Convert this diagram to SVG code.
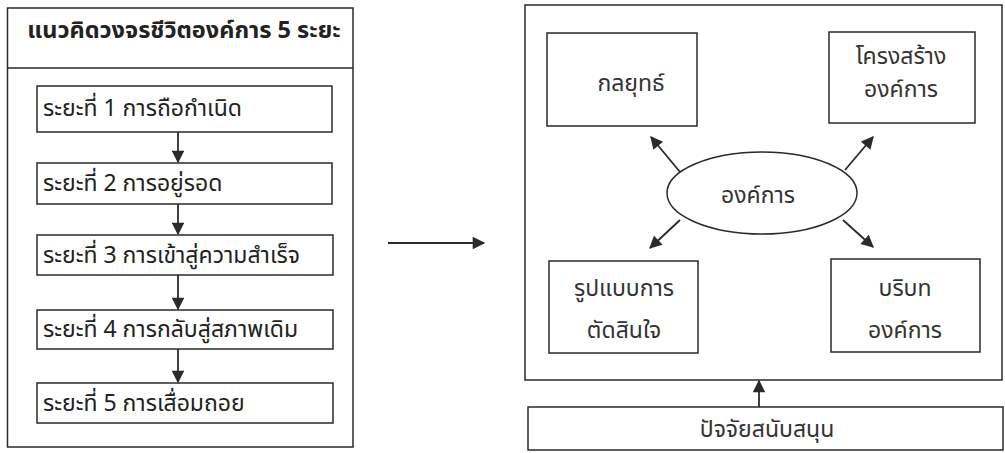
<svg xmlns="http://www.w3.org/2000/svg" width="1005" height="453" viewBox="0 0 1005 453">
<style>
.box{fill:none;stroke:#2a2a2a;stroke-width:1.5}
.t{font-family:"Noto Sans Thai","Noto Sans","DejaVu Sans",sans-serif;font-size:23px;fill:#222}
.r{font-size:23px;fill:#333}
.c{text-anchor:middle}
.hd{font-weight:bold;font-size:23.5px}
.ln{stroke:#2a2a2a;stroke-width:1.8;fill:none}
</style>
<defs>
<marker id="ah" viewBox="0 0 10 10" refX="9" refY="5" markerWidth="7.5" markerHeight="7" markerUnits="strokeWidth" orient="auto">
<path d="M0,0 L10,5 L0,10 z" fill="#2a2a2a"/>
</marker>
</defs>
<rect width="1005" height="453" fill="#fff"/>
<g id="lifecycle">
<rect class="box" x="7.5" y="8" width="345.5" height="439"/>
<line class="box" x1="7.5" y1="68" x2="353" y2="68"/>
<text class="t c hd" x="184" y="38">แนวคิดวงจรชีวิตองค์การ 5 ระยะ</text>
</g>
<g id="stage1"><rect class="box" x="37" y="86" width="295" height="46"/><text class="t" x="43" y="116">ระยะที่ 1 การถือกำเนิด</text></g>
<g id="stage2"><rect class="box" x="37" y="163" width="295" height="41"/><text class="t" x="43" y="191">ระยะที่ 2 การอยู่รอด</text></g>
<g id="stage3"><rect class="box" x="37" y="235" width="296" height="40"/><text class="t" x="43" y="263">ระยะที่ 3 การเข้าสู่ความสำเร็จ</text></g>
<g id="stage4"><rect class="box" x="37" y="310" width="296" height="39"/><text class="t" x="43" y="337">ระยะที่ 4 การกลับสู่สภาพเดิม</text></g>
<g id="stage5"><rect class="box" x="37" y="383" width="296" height="40"/><text class="t" x="43" y="411">ระยะที่ 5 การเสื่อมถอย</text></g>
<g id="org-frame"><rect class="box" x="525" y="5" width="477" height="375"/></g>
<g id="strategy"><rect class="box" x="547" y="33" width="150" height="93"/><text class="t r c" x="631" y="91">กลยุทธ์</text></g>
<g id="structure"><rect class="box" x="829" y="32" width="146" height="91"/><text class="t r c" x="901" y="64">โครงสร้าง</text><text class="t r c" x="901" y="97">องค์การ</text></g>
<g id="decision"><rect class="box" x="549" y="261" width="149" height="92"/><text class="t r c" x="624" y="296">รูปแบบการ</text><text class="t r c" x="624" y="338">ตัดสินใจ</text></g>
<g id="context"><rect class="box" x="831" y="259" width="149" height="93"/><text class="t r c" x="905" y="296">บริบท</text><text class="t r c" x="905" y="338">องค์การ</text></g>
<g id="organization"><ellipse class="box" cx="762" cy="193" rx="95" ry="41"/><text class="t r c" x="758" y="203">องค์การ</text></g>
<g id="support"><rect class="box" x="528" y="407" width="475" height="43"/><text class="t r c" x="767" y="437">ปัจจัยสนับสนุน</text></g>
<g id="connectors">
<line class="ln" x1="178" y1="132" x2="178" y2="162" marker-end="url(#ah)"/>
<line class="ln" x1="178" y1="204" x2="178" y2="234" marker-end="url(#ah)"/>
<line class="ln" x1="178" y1="275" x2="178" y2="309" marker-end="url(#ah)"/>
<line class="ln" x1="178" y1="349" x2="178" y2="382" marker-end="url(#ah)"/>
<line class="ln" x1="388" y1="243" x2="484" y2="243" marker-end="url(#ah)"/>
<line class="ln" x1="680" y1="172" x2="651" y2="137" marker-end="url(#ah)"/>
<line class="ln" x1="845" y1="170" x2="873" y2="137" marker-end="url(#ah)"/>
<line class="ln" x1="680" y1="220" x2="650" y2="248" marker-end="url(#ah)"/>
<line class="ln" x1="843" y1="220" x2="873" y2="247" marker-end="url(#ah)"/>
<line class="ln" x1="759" y1="407" x2="759" y2="381" marker-end="url(#ah)"/>
</g>
</svg>
